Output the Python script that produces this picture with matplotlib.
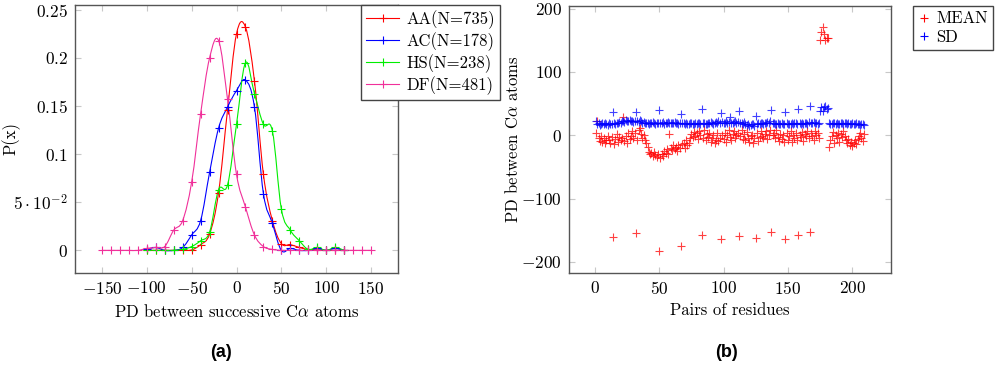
import numpy as np
import matplotlib
matplotlib.use('Agg')
import matplotlib.pyplot as plt
from matplotlib.path import Path
from matplotlib.patches import PathPatch
from matplotlib.lines import Line2D

plt.rcParams['font.family'] = 'cmr10'
plt.rcParams['mathtext.fontset'] = 'cm'
plt.rcParams['axes.formatter.use_mathtext'] = True
plt.rcParams['font.size'] = 12

# ---- (a) distribution of PD between successive C-alpha atoms
pd_short = list(range(-100, 121, 10))
pd_long = list(range(-150, 151, 10))

aa = [0, 0, 0, 0, 0, 0.0005, 0.006, 0.017, 0.06, 0.146, 0.225, 0.232, 0.176,
      0.079, 0.031, 0.007, 0.006, 0.003, 0.001, 0.0005, 0, 0, 0]
ac = [0.001, 0.003, 0, 0, 0.003, 0.016, 0.031, 0.081, 0.127, 0.149, 0.166, 0.177,
      0.149, 0.059, 0.028, 0, 0.002, 0, 0, 0.002, 0, 0.002, 0]
hs = [0, 0, 0, 0, 0.001, 0.004, 0.01, 0.019, 0.063, 0.068, 0.131, 0.195, 0.163,
      0.131, 0.124, 0.043, 0.021, 0.01, 0.001, 0.003, 0, 0.003, 0]
df = [0, 0, 0, 0, 0, 0.002, 0.003, 0.004, 0.021, 0.031, 0.071, 0.142, 0.2, 0.218,
      0.157, 0.079, 0.045, 0.016, 0.004, 0.001, 0, 0, 0, 0, 0, 0, 0, 0, 0, 0, 0]

series_a = [('AA(N=735)', pd_short, aa, '#ff0000'),
            ('AC(N=178)', pd_short, ac, '#0000ff'),
            ('HS(N=238)', pd_short, hs, '#00ee00'),
            ('DF(N=481)', pd_long, df, '#f0309a')]

# ---- (b) mean / sd per pair of residues
mean_pd = [3, 22, -4, -9, -2, -11, -5, -13, -7, -1,
           -8, -12, -3, -161, -14, -6, 2, -10, -3, -8,
           -5, 28, -9, -2, -12, 4, -6, -1, 6, -4,
           3, -154, -7, 8, 12, 2, -4, 0, -8, -12,
           -18, -26, -30, -28, -33, -27, -31, -35, -29, -183,
           -36, -30, -33, -25, -28, -22, -30, 2, -20, -24,
           -15, -22, -18, -25, -16, -20, -175, -14, -12, -20,
           -8, -15, -12, -5, 2, -3, 5, -2, 3, -6,
           6, 0, -158, -4, 8, -8, 2, -3, 4, -10,
           -5, 0, -12, -7, 3, -9, -4, -164, 1, -6,
           4, -10, 0, 8, -3, -8, 2, 6, -5, 0,
           3, -159, -1, 9, -6, 2, -8, 5, -4, -10,
           -2, 0, -12, -5, -163, 3, -9, -3, 6, -1,
           -4, 2, 7, -6, 1, 9, -153, 0, 4, -5,
           8, -3, -9, 2, -6, 0, -11, -164, 3, -8,
           -2, 6, -10, 1, -4, 4, -7, -157, 0, -3,
           5, -9, 2, -1, 7, -4, -153, 3, -2, -8,
           6, 1, 4, -5, 150, 163, 171, 160, 151, 154,
           153, -18, -8, -2, 5, -12, 0, -5, 3, -10,
           2, -3, 6, -1, -8, -13, -6, -15, -10, -17,
           -12, -8, -14, -6, -2, 3, -4, -9, 2]
sd_pd = [22, 17, 19, 16, 18, 20, 17, 19, 18, 16,
         19, 18, 17, 37, 19, 18, 20, 19, 21, 20,
         22, 23, 21, 24, 23, 22, 24, 23, 22, 21,
         23, 37, 22, 21, 24, 22, 20, 21, 19, 20,
         19, 18, 20, 19, 21, 20, 18, 19, 20, 40,
         20, 19, 21, 18, 20, 19, 21, 20, 19, 20,
         19, 21, 20, 19, 18, 20, 33, 19, 20, 18,
         19, 17, 18, 20, 19, 18, 17, 19, 18, 20,
         19, 18, 42, 20, 19, 17, 18, 20, 19, 21,
         20, 18, 19, 21, 20, 22, 19, 35, 21, 20,
         19, 22, 20, 21, 29, 20, 19, 21, 22, 20,
         21, 39, 20, 19, 18, 21, 17, 16, 18, 15,
         16, 17, 18, 15, 30, 17, 19, 18, 20, 19,
         18, 20, 19, 21, 20, 22, 40, 19, 20, 18,
         17, 19, 18, 17, 19, 18, 17, 37, 19, 18,
         17, 18, 19, 18, 20, 19, 18, 42, 19, 18,
         19, 18, 20, 19, 18, 21, 46, 20, 19, 21,
         20, 19, 18, 19, 39, 45, 38, 44, 46, 41,
         43, 19, 18, 17, 19, 20, 18, 19, 17, 18,
         19, 20, 18, 19, 20, 18, 19, 17, 18, 19,
         18, 17, 19, 18, 17, 16, 18, 17, 16]
pairs = list(range(1, len(mean_pd) + 1))


def smooth_path(xs, ys, t=0.18):
    # catmull-rom like bezier through the points (pgfplots "smooth")
    pts = np.column_stack([xs, ys]).astype(float)
    verts = [pts[0]]
    codes = [Path.MOVETO]
    n = len(pts)
    for i in range(n - 1):
        p0 = pts[max(i - 1, 0)]
        p1 = pts[i]
        p2 = pts[i + 1]
        p3 = pts[min(i + 2, n - 1)]
        verts += [p1 + (p2 - p0) * t, p2 - (p3 - p1) * t, p2]
        codes += [Path.CURVE4] * 3
    return Path(verts, codes)


def style_axes(ax):
    for s in ax.spines.values():
        s.set_color('#555555')
        s.set_linewidth(1.0)
    ax.tick_params(direction='in', top=True, right=True, length=4,
                   color='#c8c8c8', labelsize=12.5, pad=5)


fig = plt.figure(figsize=(10, 3.79), dpi=100)

ax1 = fig.add_axes([0.075, 0.2797, 0.323, 0.7071])
for name, xs, ys, c in series_a:
    ax1.add_patch(PathPatch(smooth_path(xs, ys), fill=False, edgecolor=c, lw=0.8))
    ax1.plot(xs, ys, ls='none', color=c, marker='+', markersize=6,
             markeredgewidth=0.8, label=name)
ax1.set_xlim(-180, 180)
ax1.set_ylim(-0.0235, 0.255)
ax1.set_xticks([-150, -100, -50, 0, 50, 100, 150])
ax1.set_yticks([0, 0.05, 0.1, 0.15, 0.2, 0.25],
               ['$0$', r'$5\cdot10^{-2}$', '$0.1$', '$0.15$', '$0.2$', '$0.25$'])
ax1.set_xlabel(r'PD between successive C$\alpha$ atoms', fontsize=12)
ax1.xaxis.set_label_coords(0.5, -0.112)
ax1.set_ylabel('P(x)', fontsize=12)
ax1.yaxis.set_label_coords(-0.168, 0.5)
style_axes(ax1)

leg_h = [Line2D([], [], color=c, lw=0.8, marker='+', markersize=6, markeredgewidth=0.8)
         for _, _, _, c in series_a]
leg1 = fig.legend(leg_h, [s[0] for s in series_a], loc='upper left',
                  bbox_to_anchor=(0.361, 0.987), fancybox=False, edgecolor='#444444',
                  framealpha=1, fontsize=12, handlelength=2.0, handletextpad=0.4,
                  labelspacing=0.2, borderpad=0.3, borderaxespad=0)
leg1.get_frame().set_linewidth(1.0)

ax2 = fig.add_axes([0.569, 0.2797, 0.322, 0.7045])
ax2.plot(pairs, mean_pd, ls='none', marker='+', color='#ff0000', markersize=6,
         markeredgewidth=0.8, alpha=0.75, label='MEAN')
ax2.plot(pairs, sd_pd, ls='none', marker='+', color='#0000ff', markersize=6,
         markeredgewidth=0.8, alpha=0.75, label='SD')
ax2.set_xlim(-20, 230)
ax2.set_ylim(-217.5, 204)
ax2.set_xticks([0, 50, 100, 150, 200])
ax2.set_yticks([-200, -100, 0, 100, 200])
ax2.set_xlabel('Pairs of residues', fontsize=12)
ax2.xaxis.set_label_coords(0.5, -0.112)
ax2.set_ylabel(r'PD between C$\alpha$ atoms', fontsize=12)
ax2.yaxis.set_label_coords(-0.149, 0.5)
style_axes(ax2)
leg2 = ax2.legend(loc='upper left', bbox_to_anchor=(0.913, 0.984),
                  bbox_transform=fig.transFigure, fancybox=False, edgecolor='#444444',
                  framealpha=1, fontsize=12, handlelength=0.7, handletextpad=0.4,
                  labelspacing=0.2, borderpad=0.3, borderaxespad=0)
leg2.get_frame().set_linewidth(1.0)
for lh in leg2.legend_handles:
    lh.set_alpha(1)

fig.text(0.221, 0.071, '(a)', family='Liberation Sans', weight='bold', fontsize=13,
         ha='center', va='center')
fig.text(0.727, 0.071, '(b)', family='Liberation Sans', weight='bold', fontsize=13,
         ha='center', va='center')

fig.savefig('out.png', dpi=100)
plt.close('all')
